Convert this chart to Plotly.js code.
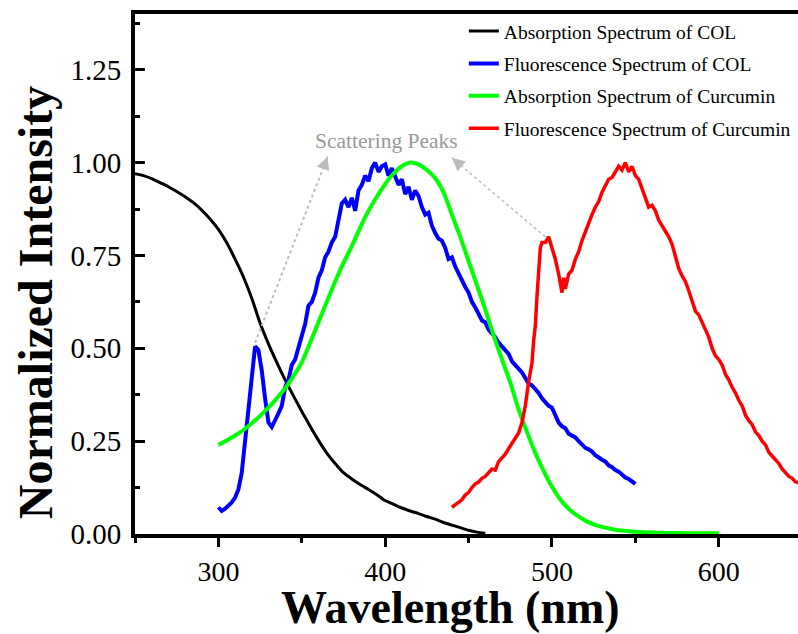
<!DOCTYPE html>
<html>
<head>
<meta charset="utf-8">
<script src="https://cdn.plot.ly/plotly-3.0.1.min.js"></script>
<style>
  html, body { margin: 0; padding: 0; background: #fff; }
  #chart { width: 798px; height: 634px; }
</style>
</head>
<body>
<div id="chart"></div>
<script>
// Absorption spectrum of COL (black)
const colAbsWl = [250,255,260,265,270,275,280,285,290,295,300,305,310,315,320,325,330,335,340,345,350,355,360,365,370,375,380,385,390,395,400,405,410,415,420,425,430,435,440,445,450,455,460];
const colAbsVal = [0.970,0.965,0.957,0.946,0.935,0.922,0.908,0.892,0.872,0.848,0.820,0.784,0.740,0.692,0.635,0.568,0.512,0.462,0.415,0.372,0.330,0.290,0.252,0.218,0.190,0.165,0.148,0.133,0.120,0.106,0.090,0.080,0.070,0.062,0.055,0.047,0.040,0.031,0.024,0.017,0.010,0.005,0.002];

// Fluorescence spectrum of COL (blue)
const colFlWl = [300,302,304,306,308,310,312,314,316,318,320,322,324,326,328,330,332,334,336,338,340,342,344,346,348,350,352,354,356,358,360,362,364,366,368,370,372,374,376,378,380,382,384,386,388,390,392,394,396,398,400,402,404,406,408,410,412,414,416,418,420,422,424,426,428,430,432,434,436,438,440,442,444,446,448,450,452,454,456,458,460,462,464,466,468,470,472,474,476,478,480,482,484,486,488,490,492,494,496,498,500,502,504,506,508,510,512,514,516,518,520,522,524,526,528,530,532,534,536,538,540,542,544,546,548,550];
const colFlVal = [0.072,0.062,0.068,0.075,0.085,0.098,0.120,0.165,0.250,0.360,0.445,0.505,0.495,0.440,0.365,0.300,0.288,0.305,0.325,0.345,0.395,0.415,0.455,0.470,0.500,0.530,0.565,0.615,0.625,0.650,0.690,0.710,0.745,0.760,0.785,0.800,0.840,0.890,0.900,0.880,0.905,0.870,0.925,0.940,0.965,0.950,0.985,1.000,0.975,0.990,0.995,0.965,0.985,0.960,0.940,0.955,0.915,0.935,0.900,0.925,0.910,0.880,0.860,0.865,0.830,0.810,0.795,0.790,0.770,0.740,0.745,0.720,0.700,0.680,0.665,0.650,0.625,0.610,0.595,0.575,0.570,0.550,0.540,0.530,0.515,0.505,0.495,0.485,0.465,0.455,0.445,0.435,0.420,0.405,0.400,0.390,0.380,0.365,0.355,0.345,0.340,0.320,0.300,0.290,0.285,0.270,0.265,0.260,0.250,0.240,0.232,0.228,0.222,0.212,0.205,0.200,0.195,0.185,0.180,0.172,0.168,0.160,0.152,0.148,0.142,0.135];

// Absorption spectrum of curcumin (green)
const curAbsWl = [300,305,310,315,320,325,330,335,340,345,350,355,360,365,370,375,380,385,390,395,400,405,410,415,420,425,430,435,440,445,450,455,460,465,470,475,480,485,490,495,500,505,510,515,520,525,530,535,540,545,550,560,570,580,590,600];
const curAbsVal = [0.240,0.252,0.265,0.280,0.298,0.318,0.340,0.365,0.392,0.425,0.462,0.515,0.570,0.625,0.680,0.730,0.775,0.825,0.870,0.908,0.942,0.970,0.990,1.000,0.995,0.980,0.958,0.920,0.860,0.800,0.735,0.670,0.605,0.535,0.470,0.408,0.335,0.275,0.218,0.170,0.127,0.093,0.068,0.050,0.036,0.026,0.019,0.014,0.010,0.008,0.006,0.004,0.003,0.002,0.002,0.002];

// Fluorescence spectrum of curcumin (red)
const curFlWl = [440,442,444,446,448,450,452,454,456,458,460,462,464,466,468,470,472,474,476,478,480,482,484,486,488,489,490,491,492,493,494,496,498,500,502,504,505,506,507,508,510,512,514,516,518,520,522,524,526,528,530,532,534,536,538,540,542,544,546,548,550,552,554,556,558,560,562,564,566,568,570,572,574,576,578,580,582,584,586,588,590,592,594,596,598,600,602,604,606,608,610,612,614,616,618,620,622,624,626,628,630,632,634,636,638,640,642,644,646,648];
const curFlVal = [0.072,0.078,0.085,0.092,0.105,0.112,0.125,0.135,0.140,0.150,0.155,0.165,0.175,0.172,0.195,0.205,0.215,0.230,0.245,0.258,0.272,0.300,0.345,0.410,0.460,0.520,0.560,0.640,0.720,0.770,0.785,0.785,0.800,0.770,0.740,0.700,0.680,0.650,0.690,0.660,0.700,0.710,0.740,0.760,0.790,0.815,0.840,0.860,0.880,0.895,0.920,0.940,0.955,0.960,0.975,0.990,0.980,1.000,0.975,0.990,0.965,0.955,0.930,0.905,0.880,0.885,0.870,0.845,0.830,0.815,0.800,0.780,0.745,0.715,0.695,0.680,0.655,0.625,0.600,0.590,0.570,0.550,0.530,0.500,0.480,0.470,0.455,0.430,0.415,0.395,0.380,0.360,0.345,0.320,0.305,0.295,0.275,0.265,0.250,0.240,0.220,0.210,0.200,0.190,0.175,0.165,0.155,0.150,0.140,0.138];

const seriesNames = [
  'Absorption Spectrum of COL',
  'Fluorescence Spectrum of COL',
  'Absorption Spectrum of Curcumin',
  'Fluorescence Spectrum of Curcumin'
];
const xTickVals = [300, 400, 500, 600];
const yTickVals = [0, 0.25, 0.5, 0.75, 1.0, 1.25];
const yTickText = ['0.00', '0.25', '0.50', '0.75', '1.00', '1.25'];

const SERIF = '"Liberation Serif", "Times New Roman", serif';

const traces = [
  { x: colAbsWl, y: colAbsVal, name: seriesNames[0], line: { color: '#000000', width: 3, shape: 'spline', smoothing: 0.6 } },
  { x: colFlWl,  y: colFlVal,  name: seriesNames[1], line: { color: '#0000ff', width: 4 } },
  { x: curAbsWl, y: curAbsVal, name: seriesNames[2], line: { color: '#00ff00', width: 4, shape: 'spline', smoothing: 0.6 } },
  { x: curFlWl,  y: curFlVal,  name: seriesNames[3], line: { color: '#ff0000', width: 3.5 } }
].map((t, i) => Object.assign({ type: 'scatter', mode: 'lines', legendgroup: 'g' + i }, t));

// Locate the scattering peak of a series within a wavelength window
function peakIn(wl, val, lo, hi) {
  let best = null;
  for (let i = 0; i < wl.length; i++) {
    if (wl[i] >= lo && wl[i] <= hi && (best === null || val[i] > val[best])) best = i;
  }
  return { x: wl[best], y: val[best] };
}
const blueScatter = peakIn(colFlWl, colFlVal, 310, 335);
const redScatter = peakIn(curFlWl, curFlVal, 490, 502);

const labelPos = { x: 401, y: 1.057 };
const headA = { x: 365.5, y: 1.016 };
const headB = { x: 440, y: 1.013 };
const grey = '#bdbdbd';

const shapes = [
  { type: 'line', xref: 'x', yref: 'y', x0: blueScatter.x, y0: blueScatter.y + 0.01, x1: headA.x, y1: headA.y,
    line: { color: grey, width: 2, dash: 'dot' } },
  { type: 'line', xref: 'x', yref: 'y', x0: redScatter.x - 2, y0: redScatter.y, x1: headB.x, y1: headB.y,
    line: { color: grey, width: 1.5, dash: 'dot' } }
];

const annotations = [
  { x: labelPos.x, y: labelPos.y, xref: 'x', yref: 'y', text: 'Scattering Peaks', showarrow: false,
    font: { family: SERIF, size: 21.5, color: '#999999' } },
  { x: headA.x, y: headA.y, xref: 'x', yref: 'y', ax: -4.3, ay: 11.2, text: '', showarrow: true,
    arrowhead: 2, arrowsize: 1.3, arrowwidth: 2, arrowcolor: grey },
  { x: headB.x, y: headB.y, xref: 'x', yref: 'y', ax: 9, ay: 7.9, text: '', showarrow: true,
    arrowhead: 2, arrowsize: 1.3, arrowwidth: 2, arrowcolor: grey },
  { x: 0.476, y: -0.141, xref: 'paper', yref: 'paper', yanchor: 'middle', text: '<b>Wavelength (nm)</b>',
    showarrow: false, font: { family: SERIF, size: 46, color: '#000' } },
  { x: -0.15, y: 0.445, xref: 'paper', yref: 'paper', xanchor: 'center', yanchor: 'middle',
    text: '<b>Normalized Intensity</b>', textangle: -90, showarrow: false,
    font: { family: SERIF, size: 48, color: '#000' } }
];

const layout = {
  width: 798,
  height: 634,
  margin: { l: 135, r: 0, t: 14, b: 100 },
  paper_bgcolor: '#ffffff',
  plot_bgcolor: '#ffffff',
  showlegend: true,
  legend: {
    x: 0.496, y: 1.004, xanchor: 'left', yanchor: 'top',
    bgcolor: 'rgba(0,0,0,0)', borderwidth: 0,
    traceorder: 'grouped', tracegroupgap: 4,
    font: { family: SERIF, size: 19.5, color: '#000' }
  },
  xaxis: {
    range: [250, 647.5],
    showgrid: false, zeroline: false,
    showline: true, linecolor: '#000', linewidth: 4, mirror: true,
    ticks: 'outside', ticklen: 9, tickwidth: 3, tickcolor: '#000',
    tickvals: xTickVals,
    tickfont: { family: SERIF, size: 28, color: '#000' },
    minor: { dtick: 50, tick0: 250, ticks: 'outside', ticklen: 5, tickwidth: 3, tickcolor: '#000' }
  },
  yaxis: {
    range: [0, 1.4],
    showgrid: false, zeroline: false,
    showline: true, linecolor: '#000', linewidth: 4, mirror: false,
    ticks: 'inside', ticklen: 10, tickwidth: 3, tickcolor: '#000',
    tickvals: yTickVals, ticktext: yTickText,
    tickfont: { family: SERIF, size: 29, color: '#000' },
    ticklabelstandoff: 4,
    minor: { dtick: 0.125, tick0: 0, ticks: 'inside', ticklen: 5, tickwidth: 3, tickcolor: '#000' }
  },
  shapes: shapes,
  annotations: annotations
};

Plotly.newPlot('chart', traces, layout, { displayModeBar: false, staticPlot: true });
</script>
</body>
</html>
